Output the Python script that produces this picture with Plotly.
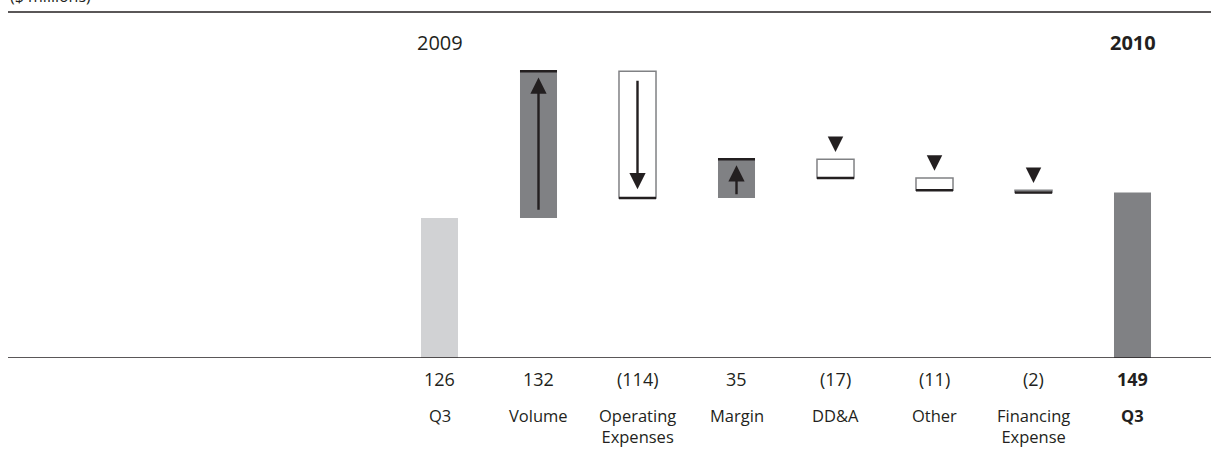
import plotly.graph_objects as go

# ---------------- data ----------------
categories = ["Q3", "Volume", "Operating<br>Expenses", "Margin", "DD&A", "Other",
              "Financing<br>Expense", "<b>Q3</b>"]
value_labels = ["126", "132", "(114)", "35", "(17)", "(11)", "(2)", "<b>149</b>"]
start_value = 126
changes = [132, -114, 35, -17, -11, -2]
end_value = 149
year_labels = ["2009", "<b>2010</b>"]
change_marks = ["arrow", "arrow", "arrow", "triangle", "triangle", "triangle"]

# ---------------- styles ----------------
INK = "#231f20"
DARK = "#808184"
LIGHT = "#d1d2d4"
FONT = "Open Sans"
BAR_W = 0.374
PX_PER_UNIT = 1.111
Y_MAX = 346 / PX_PER_UNIT

n = len(categories)
xs = list(range(n))

# cumulative levels
prev_levels, new_levels = [], []
level = start_value
for c in changes:
    prev_levels.append(level)
    level = level + c
    new_levels.append(level)

fig = go.Figure()

# totals
fig.add_trace(go.Bar(
    x=[0, n - 1], y=[start_value, end_value], width=BAR_W,
    marker=dict(color=[LIGHT, DARK], line=dict(width=0)),
    hoverinfo="skip", showlegend=False))

# increases / decreases
inc_x, inc_base, inc_h = [], [], []
dec_x, dec_base, dec_h = [], [], []
for i, c in enumerate(changes):
    xi = i + 1
    if c >= 0:
        inc_x.append(xi); inc_base.append(prev_levels[i]); inc_h.append(c)
    else:
        dec_x.append(xi); dec_base.append(new_levels[i]); dec_h.append(-c)

fig.add_trace(go.Bar(
    x=inc_x, y=inc_h, base=inc_base, width=BAR_W,
    marker=dict(color=DARK, line=dict(width=0)),
    hoverinfo="skip", showlegend=False))
fig.add_trace(go.Bar(
    x=dec_x, y=dec_h, base=dec_base, width=BAR_W,
    marker=dict(color="white", line=dict(color=DARK, width=1.5)),
    hoverinfo="skip", showlegend=False))

shapes = []
# black edge at the new level
for i, c in enumerate(changes):
    xi = i + 1
    shapes.append(dict(type="line", xref="x", yref="y",
                       x0=xi - BAR_W / 2, x1=xi + BAR_W / 2,
                       y0=new_levels[i], y1=new_levels[i],
                       line=dict(color=INK, width=2.5)))
# baseline & top rule
shapes.append(dict(type="line", xref="paper", yref="y", x0=0, x1=1, y0=0, y1=0,
                   line=dict(color=INK, width=1.5)))
shapes.append(dict(type="line", xref="paper", yref="paper", x0=0, x1=1, y0=1, y1=1,
                   line=dict(color=INK, width=1.5)))

annotations = []
# arrows and triangles
for i, c in enumerate(changes):
    xi = i + 1
    lo, hi = min(prev_levels[i], new_levels[i]), max(prev_levels[i], new_levels[i])
    if change_marks[i] == "arrow":
        inset_tail = 2 if (hi - lo) < 60 else 6
        if c >= 0:
            tail, tip = lo + inset_tail, hi - 5.5
        else:
            tail, tip = hi - 7, lo + 8
        annotations.append(dict(x=xi, y=tip, ax=xi, ay=tail, xref="x", yref="y",
                                axref="x", ayref="y", text="", showarrow=True,
                                arrowhead=2, arrowsize=1.35, arrowwidth=2.4,
                                arrowcolor=INK, standoff=0))
    else:
        tip = hi + 6.5
        tail = tip + 14
        annotations.append(dict(x=xi, y=tip, ax=xi, ay=tail, xref="x", yref="y",
                                axref="x", ayref="y", text="", showarrow=True,
                                arrowhead=2, arrowsize=3.1, arrowwidth=1,
                                arrowcolor=INK, standoff=0))

# value labels and category labels
for i in xs:
    annotations.append(dict(x=i, y=-0.0615, xref="x", yref="paper", text=value_labels[i],
                            showarrow=False, yanchor="middle",
                            font=dict(family=FONT, size=18, color=INK)))
    annotations.append(dict(x=i, y=-0.128, xref="x", yref="paper", text=categories[i],
                            showarrow=False, yanchor="top",
                            font=dict(family=FONT, size=16.5, color=INK)))

# year labels
for xi, t in zip([0, n - 1], year_labels):
    annotations.append(dict(x=xi, y=0.913, xref="x", yref="paper", text=t,
                            showarrow=False, yanchor="middle",
                            font=dict(family=FONT, size=20, color=INK)))

# unit label (partly cut off at the top)
annotations.append(dict(x=0, y=1.046, xref="paper", yref="paper", text="($ millions)",
                        showarrow=False, xanchor="left", yanchor="middle",
                        font=dict(family=FONT, size=16, color=INK)))

x_min = -(439.5 - 8) / 99
x_max = x_min + 1203 / 99

fig.update_layout(
    width=1211, height=470,
    margin=dict(l=8, r=0, t=12, b=112),
    paper_bgcolor="white", plot_bgcolor="white",
    barmode="overlay",
    xaxis=dict(range=[x_min, x_max], visible=False, showgrid=False, zeroline=False),
    yaxis=dict(range=[0, Y_MAX], visible=False, showgrid=False, zeroline=False),
    shapes=shapes, annotations=annotations,
    font=dict(family=FONT, color=INK),
    showlegend=False,
)

fig.write_html("out.html", config={"displayModeBar": False},
               post_script="document.body.style.margin='0';")
